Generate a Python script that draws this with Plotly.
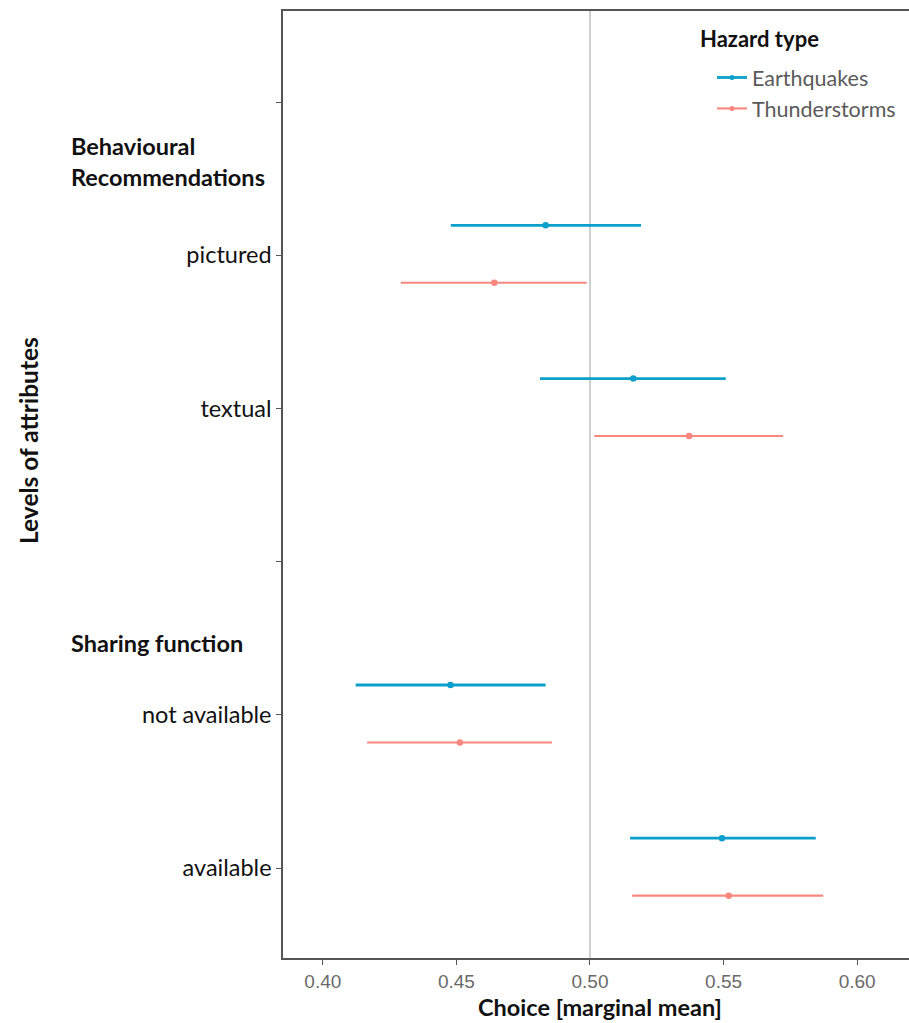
import plotly.graph_objects as go
import numpy as np

# ---- data ----
rows = ["", "pictured", "textual", "", "not available", "available"]
headers = ["Behavioural<br>Recommendations", "Sharing function"]
header_rows = [0.39, 3.53]

eq_level = ["pictured", "textual", "not available", "available"]
eq_est = [0.4834, 0.5162, 0.4478, 0.5494]
eq_low = [0.4479, 0.4813, 0.4123, 0.5150]
eq_high = [0.5191, 0.5508, 0.4834, 0.5845]

ts_level = ["pictured", "textual", "not available", "available"]
ts_est = [0.4642, 0.5371, 0.4513, 0.5519]
ts_low = [0.4292, 0.5016, 0.4166, 0.5158]
ts_high = [0.4988, 0.5723, 0.4858, 0.5873]

x_ticks = [0.40, 0.45, 0.50, 0.55, 0.60]

EQ_COL = "#0AA0CB"
TS_COL = "#F8877E"
FONT = "Lato"

L, T, B, W, H = 283, 11, 65, 909, 1023
PW = W - L
PH = H - T - B

def ypos(levels, off):
    return [rows.index(l) + off for l in levels]

fig = go.Figure()

for name, lv, est, lo, hi, col, off, lw in [
    ("Earthquakes", eq_level, eq_est, eq_low, eq_high, EQ_COL, -0.195, 2.8),
    ("Thunderstorms", ts_level, ts_est, ts_low, ts_high, TS_COL, 0.18, 2.1),
]:
    est = np.array(est); lo = np.array(lo); hi = np.array(hi)
    fig.add_trace(go.Scatter(
        x=est, y=ypos(lv, off), mode="markers", name=name,
        marker=dict(color=col, size=6.5, symbol="circle"),
        error_x=dict(type="data", symmetric=False, array=hi - est, arrayminus=est - lo,
                     color=col, thickness=lw, width=0),
        showlegend=False,
    ))
    # legend proxy
    fig.add_trace(go.Scatter(
        x=[None], y=[None], mode="lines+markers", name=name,
        line=dict(color=col, width=lw), marker=dict(color=col, size=5),
    ))

# vertical reference line at 0.5
fig.add_vline(x=0.5, line=dict(color="#CFCFCF", width=2), layer="below")

# header annotations
for txt, yv in zip(headers, header_rows):
    fig.add_annotation(text="<b>%s</b>" % txt, x=(69 - L) / PW, xref="paper", y=yv, yref="y",
                       xanchor="left", yanchor="middle", align="left", showarrow=False,
                       font=dict(family=FONT, size=23.5, color="#111111"))

# y-axis title
fig.add_annotation(text="<b>Levels of attributes</b>", x=(28 - L) / PW, xref="paper",
                   y=1 - (441 - T) / PH, yref="paper", textangle=-90, showarrow=False,
                   xanchor="center", yanchor="middle",
                   font=dict(family=FONT, size=24.5, color="#111111"))

# x-axis title
fig.add_annotation(text="<b>Choice [marginal mean]</b>", x=(600 - L) / PW, xref="paper",
                   y=-(1007 - (H - B)) / PH, yref="paper", yanchor="middle", showarrow=False,
                   font=dict(family=FONT, size=23.5, color="#111111"))

# legend title
fig.add_annotation(text="<b>Hazard type</b>", x=(698 - L) / PW, xref="paper",
                   y=1 - (38 - T) / PH, yref="paper", xanchor="left", yanchor="middle",
                   showarrow=False, font=dict(family=FONT, size=22, color="#111111"))

fig.update_layout(
    width=W, height=H,
    margin=dict(l=L, r=0, t=T, b=B),
    paper_bgcolor="white", plot_bgcolor="white",
    xaxis=dict(range=[0.3851, 0.6194], tickvals=x_ticks,
               ticktext=["%.2f" % v for v in x_ticks],
               showgrid=False, zeroline=False, showline=True, linecolor="#555555",
               linewidth=1.5, mirror=True, ticks="outside", ticklen=5, tickcolor="#555555",
               tickfont=dict(family="Liberation Sans", size=19, color="#6a6a6a")),
    yaxis=dict(range=[5.587, -0.594], tickvals=list(range(len(rows))), ticktext=rows,
               showgrid=False, zeroline=False, showline=True, linecolor="#555555",
               linewidth=1.5, mirror=False, ticks="outside", ticklen=5, tickcolor="#555555",
               tickfont=dict(family=FONT, size=23.5, color="#111111")),
    legend=dict(x=(712 - L) / PW, y=1 - (57 - T) / PH, xanchor="left", yanchor="top",
                font=dict(family=FONT, size=21.5, color="#5a5a5a"),
                bgcolor="rgba(0,0,0,0)", itemwidth=30, tracegroupgap=0),
)

fig.write_html("out.html", config={"displayModeBar": False},
               post_script="document.body.style.margin='0';")
